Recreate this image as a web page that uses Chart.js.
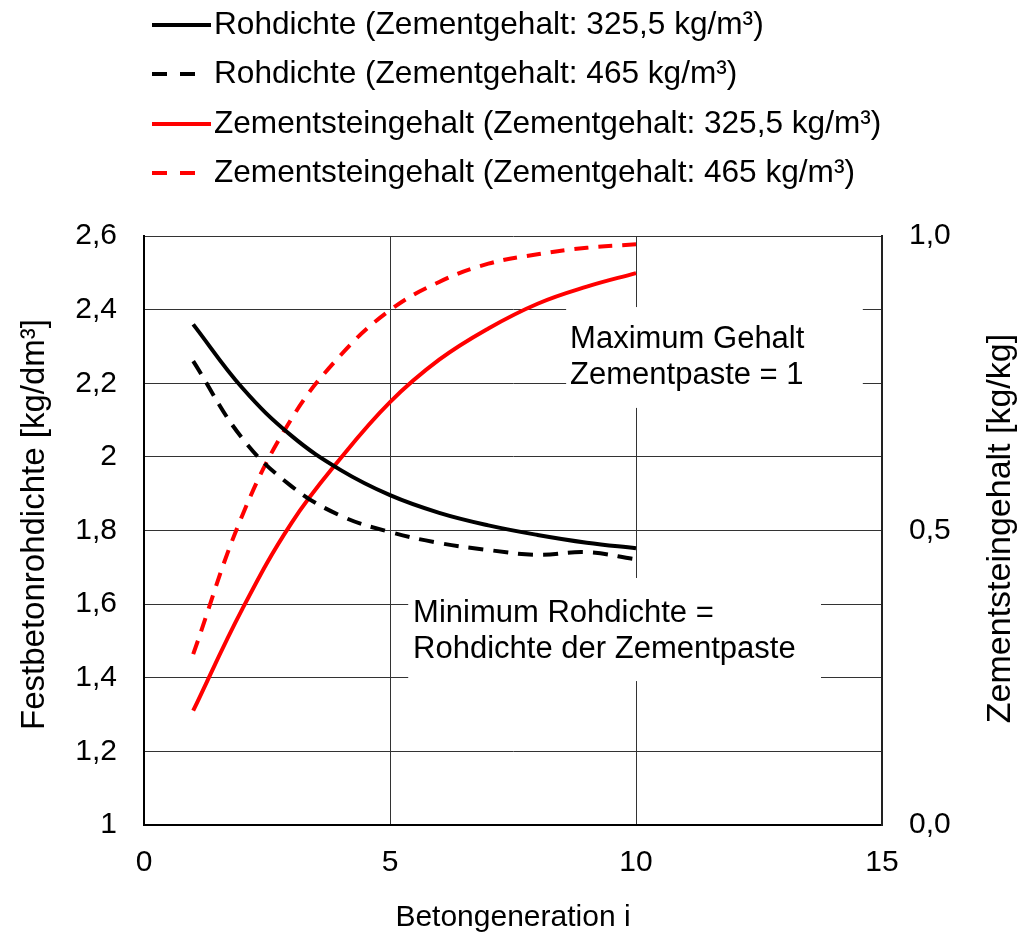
<!DOCTYPE html>
<html><head><meta charset="utf-8">
<script src="https://cdn.jsdelivr.net/npm/chart.js@4.4.1/dist/chart.umd.min.js"></script>
<style>html,body{margin:0;padding:0;background:#fff;overflow:hidden}#wrap{position:relative;width:1019px;height:936px}</style>
</head><body><div id="wrap"><canvas id="c" width="1019" height="936"></canvas></div>
<script>
// ---- data ----
const generations = [1, 2, 3, 4, 5, 6, 7, 8, 9, 10];
const rohdichte325 = [2.36, 2.187, 2.057, 1.964, 1.896, 1.848, 1.814, 1.788, 1.767, 1.752];
const rohdichte465 = [2.26, 2.05, 1.92, 1.84, 1.796, 1.766, 1.747, 1.734, 1.741, 1.722];
const zementstein325 = [0.194, 0.367, 0.513, 0.623, 0.718, 0.790, 0.843, 0.885, 0.914, 0.937];
const zementstein465 = [0.29, 0.526, 0.69, 0.798, 0.874, 0.922, 0.953, 0.969, 0.980, 0.986];
const seriesLabels = [
  'Rohdichte (Zementgehalt: 325,5 kg/m³)',
  'Rohdichte (Zementgehalt: 465 kg/m³)',
  'Zementsteingehalt (Zementgehalt: 325,5 kg/m³)',
  'Zementsteingehalt (Zementgehalt: 465 kg/m³)'
];
const xTickLabels = ['0', '5', '10', '15'];
const yLeftTickLabels = ['1', '1,2', '1,4', '1,6', '1,8', '2', '2,2', '2,4', '2,6'];
const yRightTickLabels = ['0,0', '0,5', '1,0'];
const xTitle = 'Betongeneration i';
const yLeftTitle = 'Festbetonrohdichte [kg/dm³]';
const yRightTitle = 'Zementsteingehalt [kg/kg]';
const noteMaxLines = ['Maximum Gehalt', 'Zementpaste = 1'];
const noteMinLines = ['Minimum Rohdichte =', 'Rohdichte der Zementpaste'];

// ---- styling ----
const FONT = "'Liberation Sans', Arial, sans-serif";
const GRID = '#333333';
const colors = ['#000000', '#000000', '#ff0000', '#ff0000'];
const dashes = [[], [15, 10], [], [14, 10]];
const axisIds = ['y', 'y', 'y1', 'y1'];
const values = [rohdichte325, rohdichte465, zementstein325, zementstein465];

// annotation boxes in data coordinates (left axis)
const notes = [
  { box: [8.58, 14.61, 2.133, 2.407], textX: 8.66, lineY: [2.318, 2.222], lines: noteMaxLines },
  { box: [5.37, 13.76, 1.391, 1.671], textX: 5.47, lineY: [1.576, 1.478], lines: noteMinLines }
];

const datasets = values.map((vals, i) => ({
  label: seriesLabels[i],
  data: generations.map((g, j) => ({ x: g, y: vals[j] })),
  yAxisID: axisIds[i],
  borderColor: colors[i],
  borderWidth: 4,
  borderDash: dashes[i],
  pointRadius: 0,
  fill: false,
  tension: 0.4
}));

const notesPlugin = {
  id: 'notes',
  beforeDatasetsDraw(chart) {
    const ctx = chart.ctx, sx = chart.scales.x, sy = chart.scales.y;
    ctx.save();
    notes.forEach(n => {
      const x0 = sx.getPixelForValue(n.box[0]), x1 = sx.getPixelForValue(n.box[1]);
      const y0 = sy.getPixelForValue(n.box[3]), y1 = sy.getPixelForValue(n.box[2]);
      ctx.fillStyle = '#fff';
      ctx.fillRect(x0, y0, x1 - x0, y1 - y0);
      ctx.fillStyle = '#000';
      ctx.font = '31px ' + FONT;
      ctx.textAlign = 'left';
      ctx.textBaseline = 'middle';
      n.lines.forEach((t, k) => ctx.fillText(t, sx.getPixelForValue(n.textX), sy.getPixelForValue(n.lineY[k])));
    });
    ctx.restore();
  }
};

const legendRowsY = [25, 74, 124, 173];
const legendPlugin = {
  id: 'customLegend',
  afterDraw(chart) {
    const ctx = chart.ctx;
    ctx.save();
    chart.data.datasets.forEach((ds, i) => {
      const y = legendRowsY[i];
      ctx.strokeStyle = ds.borderColor;
      ctx.lineWidth = 4;
      ctx.setLineDash(ds.borderDash.length ? [15, 13] : []);
      ctx.beginPath();
      ctx.moveTo(152, y);
      ctx.lineTo(ds.borderDash.length ? 197 : 211, y);
      ctx.stroke();
      ctx.setLineDash([]);
      ctx.fillStyle = '#000';
      ctx.font = '31.6px ' + FONT;
      ctx.textAlign = 'left';
      ctx.textBaseline = 'middle';
      ctx.fillText(ds.label, 214, y);
    });
    // vertical axis titles (both read bottom-to-top)
    const a = chart.chartArea;
    ctx.textAlign = 'center';
    ctx.textBaseline = 'middle';
    ctx.font = '33px ' + FONT;
    ctx.save(); ctx.translate(35, (a.top + a.bottom) / 2 - 6); ctx.rotate(-Math.PI / 2);
    ctx.fillText(yLeftTitle, 0, 0); ctx.restore();
    ctx.font = '34px ' + FONT;
    ctx.save(); ctx.translate(1001, (a.top + a.bottom) / 2 - 2); ctx.rotate(-Math.PI / 2);
    ctx.fillText(yRightTitle, 0, 0); ctx.restore();
    ctx.restore();
  }
};

Chart.defaults.font.family = FONT;
Chart.defaults.color = '#000';

new Chart(document.getElementById('c'), {
  type: 'line',
  data: { datasets },
  plugins: [notesPlugin, legendPlugin],
  options: {
    responsive: false,
    animation: false,
    devicePixelRatio: 1,
    layout: { padding: { top: 236, left: 0, right: 0, bottom: 0 } },
    plugins: { legend: { display: false }, tooltip: { enabled: false } },
    scales: {
      x: {
        type: 'linear', min: 0, max: 15,
        ticks: { stepSize: 5, font: { size: 30 }, padding: 20, color: '#000',
          callback: (v, i) => xTickLabels[i] },
        grid: { color: GRID, lineWidth: 1, drawTicks: false },
        border: { display: true, color: '#000', width: 2 },
        title: { display: true, text: xTitle, font: { size: 30 }, color: '#000', padding: { top: 0, bottom: 0 } },
        afterFit: s => { s.height = 111; }
      },
      y: {
        position: 'left', min: 1, max: 2.6,
        ticks: { stepSize: 0.2, font: { size: 30 }, padding: 27, color: '#000',
          callback: (v, i) => yLeftTickLabels[i] },
        grid: { color: GRID, lineWidth: 1, drawTicks: false },
        border: { display: true, color: '#000', width: 2 },
        title: { display: false },
        afterFit: s => { s.width = 144; }
      },
      y1: {
        position: 'right', min: 0, max: 1,
        ticks: { stepSize: 0.5, font: { size: 30 }, padding: 27, color: '#000',
          callback: (v, i) => yRightTickLabels[i] },
        grid: { display: false, drawTicks: false },
        border: { display: true, color: '#222', width: 2 },
        title: { display: false },
        afterFit: s => { s.width = 137; }
      }
    }
  }
});
</script>
</body></html>
